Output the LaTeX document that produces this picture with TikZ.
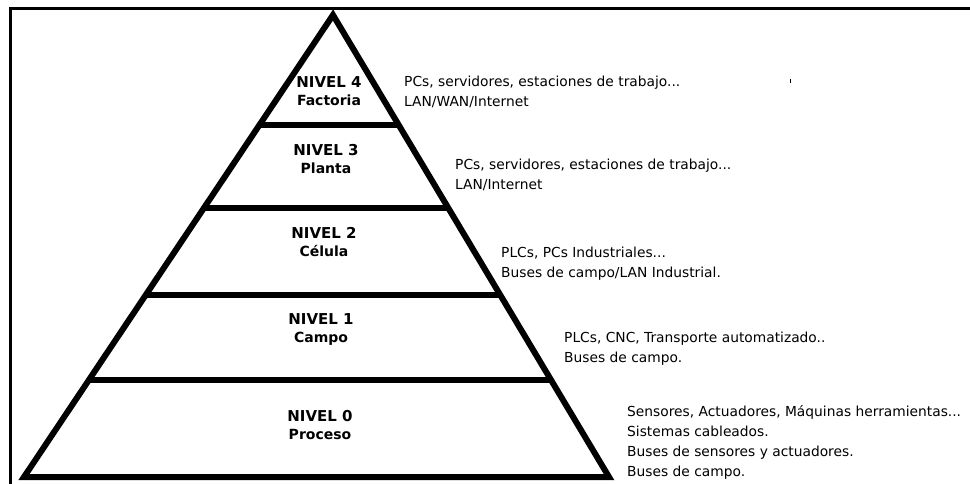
\documentclass[tikz,border=0pt]{standalone}
\usepackage{fontspec}
\setmainfont{DejaVu Sans}
\usetikzlibrary{calc}

\tikzset{
  frame/.style={line width=3pt, line cap=rect},
  pyr/.style={line width=6pt, line join=miter},
  divider/.style={line width=6.5pt},
  level/.style={font=\bfseries\fontsize{15}{18}\selectfont, align=center, inner sep=0pt},
  info/.style={font=\fontsize{13.8}{20}\selectfont, align=left, anchor=west, inner sep=0pt},
}
\newcommand{\lvname}[1]{{\fontsize{14}{18}\selectfont #1}}

\begin{document}
\begin{tikzpicture}[x=1pt, y=-1pt]
  \useasboundingbox (0,0) rectangle (970,483);
  \fill[white] (0,0) rectangle (970,483);

  % outer frame (top and left edges)
  \draw[frame] (970,8) -- (10.5,8) -- (10.5,483);

  % pyramid outline
  \coordinate (A)  at (333,15);
  \coordinate (BL) at (24,477);
  \coordinate (BR) at (609,477);
  \draw[pyr] (BL) -- (A) -- (BR) -- cycle;

  % level dividers
  \foreach \t/\n in {0.2381/d4, 0.4177/d3, 0.6061/d2, 0.7900/d1}{
    \coordinate (\n l) at ($(A)!\t!(BL)$);
    \coordinate (\n r) at ($(A)!\t!(BR)$);
    \draw[divider] (\n l) -- (\n r);
  }

  % level names
  \node[level] (n4) at (329,91)  {NIVEL 4\\\lvname{Factoria}};
  \node[level] (n3) at (326,159) {NIVEL 3\\\lvname{Planta}};
  \node[level] (n2) at (324,242) {NIVEL 2\\\lvname{Célula}};
  \node[level] (n1) at (321,329) {NIVEL 1\\\lvname{Campo}};
  \node[level] (n0) at (320,425) {NIVEL 0\\\lvname{Proceso}};

  % descriptions of each level
  \node[info] (t4) at (404,92)  {PCs, servidores, estaciones de trabajo...\\LAN/WAN/Internet};
  \node[info] (t3) at (455,175) {PCs, servidores, estaciones de trabajo...\\LAN/Internet};
  \node[info] (t2) at (501,264) {PLCs, PCs Industriales...\\Buses de campo/LAN Industrial.};
  \node[info] (t1) at (564,349) {PLCs, CNC, Transporte automatizado..\\Buses de campo.};
  \node[info] (t0) at (627,442) {Sensores, Actuadores, Máquinas herramientas...\\Sistemas cableados.\\Buses de sensores y actuadores.\\Buses de campo.};

  % small stray mark
  \fill (789.5,79) rectangle (791,83);
\end{tikzpicture}
\end{document}
